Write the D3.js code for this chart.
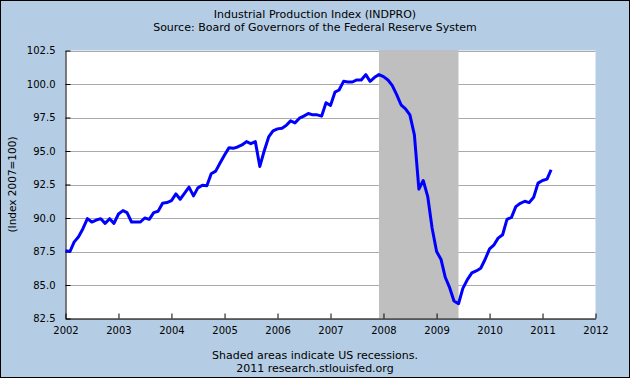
<!DOCTYPE html>
<html><head><meta charset="utf-8">
<script src="https://cdn.jsdelivr.net/npm/d3@7"></script>
<style>html,body{margin:0;padding:0;background:#fff}svg{display:block}</style>
</head><body>
<script>
// Monthly values, Jan 2002 .. Mar 2011
const startYear = 2002, startMonth = 0;
const values = [
 87.55,87.5,88.2,88.6,89.2,89.95,89.7,89.85,89.95,89.6,89.95,89.6,
 90.3,90.55,90.4,89.7,89.7,89.7,90.0,89.9,90.4,90.5,91.1,91.15,
 91.3,91.8,91.4,91.85,92.3,91.65,92.25,92.45,92.4,93.3,93.5,94.1,
 94.7,95.25,95.2,95.3,95.45,95.7,95.55,95.7,93.85,95.0,96.05,96.5,
 96.65,96.7,96.9,97.25,97.1,97.45,97.6,97.8,97.7,97.7,97.6,98.6,
 98.4,99.4,99.55,100.2,100.15,100.15,100.3,100.3,100.7,100.2,100.5,100.7,
 100.55,100.3,99.9,99.2,98.45,98.15,97.7,96.2,92.15,92.8,91.6,89.25,
 87.5,86.9,85.6,84.8,83.8,83.6,84.75,85.4,85.9,86.05,86.25,86.9,
 87.7,88.0,88.5,88.75,89.9,90.05,90.85,91.1,91.25,91.15,91.55,92.6,
 92.8,92.9,93.6
];
const recessions = [["2007-12-01","2009-06-01"]];
const yTicks = [82.5,85.0,87.5,90.0,92.5,95.0,97.5,100.0,102.5];
const xTickYears = [2002,2003,2004,2005,2006,2007,2008,2009,2010,2011,2012];
const titleLines = ["Industrial Production Index (INDPRO)","Source: Board of Governors of the Federal Reserve System"];
const footerLines = ["Shaded areas indicate US recessions.","2011 research.stlouisfed.org"];
const yLabel = "(Index 2007=100)";

const W=630,H=378;
const L=65.5,R=595.5,T=50.5,B=318.5;
const font = "DejaVu Sans, Verdana, sans-serif";

const data = values.map((v,i)=>({date:new Date(Date.UTC(startYear, startMonth+i, 1)), v}));

const svg = d3.select("body").append("svg").attr("width",W).attr("height",H);
svg.append("rect").attr("x",0.5).attr("y",0.5).attr("width",W-1).attr("height",H-1)
  .attr("fill","#b4cde4").attr("stroke","#000");

const x = d3.scaleUtc().domain([new Date(Date.UTC(2002,0,1)), new Date(Date.UTC(2012,0,1))]).range([L,R]);
const y = d3.scaleLinear().domain([82.5,102.5]).range([B,T]);

svg.append("rect").attr("x",L).attr("y",T).attr("width",R-L).attr("height",B-T).attr("fill","#fff");

// gridlines
svg.append("g").selectAll("line").data(yTicks).join("line")
  .attr("x1",L).attr("x2",R).attr("y1",d=>Math.round(y(d))+0.5).attr("y2",d=>Math.round(y(d))+0.5)
  .attr("stroke","#aaaaaa").attr("stroke-width",1);

// recessions
svg.append("g").selectAll("rect").data(recessions).join("rect")
  .attr("x",d=>x(new Date(d[0]))).attr("width",d=>x(new Date(d[1]))-x(new Date(d[0])))
  .attr("y",T-0.5).attr("height",B-T+0.5).attr("fill","#bfbfbf");

// axes
const yAxis = d3.axisLeft(y).tickValues(yTicks).tickFormat(d3.format(".1f")).tickSizeInner(-5).tickSizeOuter(0).tickPadding(10);
const gy = svg.append("g").attr("transform",`translate(${L},0)`).call(yAxis);
gy.selectAll("text").attr("font-family",font).attr("font-size",10).attr("fill","#000");
gy.selectAll("line,path").attr("stroke","#000");

const xAxis = d3.axisBottom(x).tickValues(xTickYears.map(yr=>new Date(Date.UTC(yr,0,1))))
  .tickFormat(d3.utcFormat("%Y")).tickSizeInner(-5).tickSizeOuter(0).tickPadding(8);
const gx = svg.append("g").attr("transform",`translate(0,${B})`).call(xAxis);
gx.selectAll("text").attr("font-family",font).attr("font-size",10).attr("fill","#000");
gx.selectAll("line,path").attr("stroke","#000");

// line
const line = d3.line().x(d=>x(d.date)).y(d=>y(d.v));
svg.append("path").datum(data).attr("d",line).attr("fill","none")
  .attr("stroke","#0000ff").attr("stroke-width",3).attr("stroke-linejoin","round");

// titles
svg.append("g").selectAll("text").data(titleLines).join("text")
  .attr("x",W/2).attr("y",(d,i)=>18+i*12.5).attr("text-anchor","middle")
  .attr("font-family",font).attr("font-size",11).attr("fill","#000").text(d=>d);
svg.append("g").selectAll("text").data(footerLines).join("text")
  .attr("x",W/2).attr("y",(d,i)=>359+i*13).attr("text-anchor","middle")
  .attr("font-family",font).attr("font-size",11).attr("fill","#000").text(d=>d);
svg.append("text").attr("transform",`translate(16,${(T+B)/2}) rotate(-90)`)
  .attr("text-anchor","middle").attr("font-family",font).attr("font-size",10.5).attr("fill","#000").text(yLabel);
</script>
</body></html>
